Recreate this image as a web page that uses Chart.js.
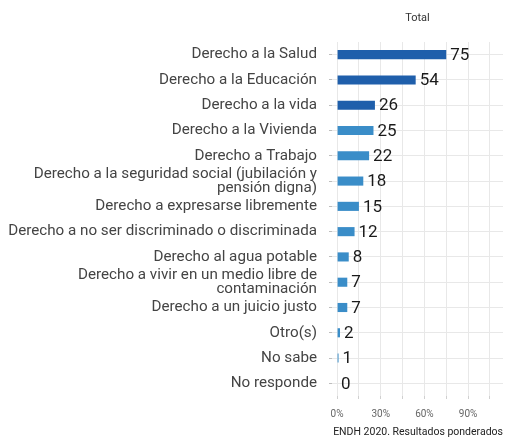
<!DOCTYPE html>
<html><head><meta charset="utf-8">
<script src="https://cdn.jsdelivr.net/npm/chart.js@4/dist/chart.umd.min.js"></script>
<style>html,body{margin:0;padding:0;background:#fff}#wrap{width:505px;height:442px}</style>
</head><body><div id="wrap"><canvas id="c"></canvas></div>
<script>
const CATEGORIES = [
  'Derecho a la Salud',
  'Derecho a la Educación',
  'Derecho a la vida',
  'Derecho a la Vivienda',
  'Derecho a Trabajo',
  ['Derecho a la seguridad social (jubilación y', 'pensión digna)'],
  'Derecho a expresarse libremente',
  'Derecho a no ser discriminado o discriminada',
  'Derecho al agua potable',
  ['Derecho a vivir en un medio libre de', 'contaminación'],
  'Derecho a un juicio justo',
  'Otro(s)',
  'No sabe',
  'No responde'
];
const VALUES = [75, 54, 26, 25, 22, 18, 15, 12, 8, 7, 7, 2, 1, 0];
const HIGHLIGHT_COUNT = 3; // first three bars are darker
const X_TICK_STEP = 15;
const X_LABEL_STEP = 30;
const FACET_TITLE = 'Total';
const CAPTION = 'ENDH 2020. Resultados ponderados';

const DARK = '#1f5fab', LIGHT = '#3a8dc8';
const FONT = 'Roboto';

const valueLabels = {
  id: 'valueLabels',
  afterDatasetsDraw(chart) {
    const ctx = chart.ctx;
    const meta = chart.getDatasetMeta(0);
    ctx.save();
    ctx.font = `17px ${FONT}`;
    ctx.fillStyle = '#1a1a1a';
    ctx.textAlign = 'left';
    ctx.textBaseline = 'middle';
    meta.data.forEach((el, i) => {
      ctx.fillText(String(VALUES[i]), el.x + 4, el.y + 1);
    });
    ctx.restore();
  }
};
const facetTitle = {
  id: 'facetTitle',
  afterDraw(chart) {
    const ctx = chart.ctx, a = chart.chartArea;
    ctx.save();
    ctx.font = `11px ${FONT}`;
    ctx.fillStyle = '#333';
    ctx.textAlign = 'center';
    ctx.textBaseline = 'middle';
    ctx.fillText(FACET_TITLE, (a.left + a.right) / 2, 18);
    ctx.restore();
  }
};

new Chart(document.getElementById('c'), {
  type: 'bar',
  data: {
    labels: CATEGORIES,
    datasets: [{
      data: VALUES,
      backgroundColor: c => c.dataIndex < HIGHLIGHT_COUNT ? DARK : LIGHT,
      barPercentage: 0.36,
      categoryPercentage: 1
    }]
  },
  options: {
    indexAxis: 'y',
    responsive: true,
    maintainAspectRatio: false,
    animation: false,
    layout: { padding: { top: 42, right: 2, left: 0, bottom: 0 } },
    plugins: {
      legend: { display: false },
      tooltip: { enabled: false },
      title: {
        display: true, text: CAPTION, position: 'bottom', align: 'end',
        color: '#222', font: { family: FONT, size: 10.5, weight: 'normal' },
        padding: { top: 4, bottom: 3 }
      }
    },
    scales: {
      x: {
        min: -3.5, max: 114,
        border: { display: false },
        grid: { color: '#e8e8e8', lineWidth: 1, tickLength: 3, tickColor: '#d0d0d0' },
        ticks: {
          stepSize: X_TICK_STEP, includeBounds: false, autoSkip: false, maxRotation: 0,
          padding: 9, color: '#666', font: { family: FONT, size: 10 },
          callback: v => (v % X_LABEL_STEP === 0 ? v + '%' : '')
        },
        afterFit: s => { s.height = 26.4; }
      },
      y: {
        border: { display: false },
        grid: { color: '#e8e8e8', lineWidth: 1, offset: false, tickLength: 3, tickColor: '#bdbdbd' },
        ticks: {
          autoSkip: false, padding: 12, color: '#444',
          font: { family: FONT, size: 15.2, lineHeight: 0.92 }
        },
        afterFit: s => { s.width = 332; }
      }
    }
  },
  plugins: [valueLabels, facetTitle]
});
</script></body></html>
